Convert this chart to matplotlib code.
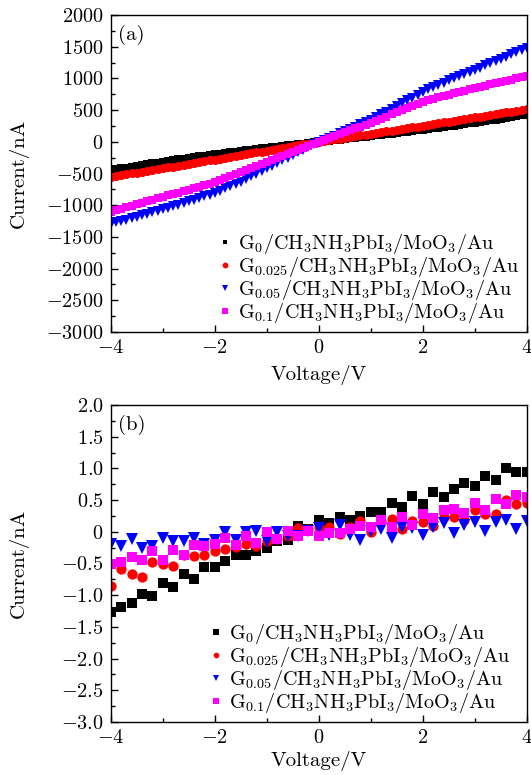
import numpy as np
import matplotlib
matplotlib.use("Agg")
import matplotlib.pyplot as plt
from matplotlib.ticker import MultipleLocator, FuncFormatter

plt.rcParams['font.family'] = 'cmr10'
plt.rcParams['mathtext.fontset'] = 'cm'
plt.rcParams['axes.formatter.use_mathtext'] = True
plt.rcParams['axes.unicode_minus'] = True

# ---------------- data: panel (a), sweep -4..4 V, step 0.1 V ----------------
volt_a = [round(-4 + 0.1 * i, 1) for i in range(81)]

cur_a_g0 = [-445, -432, -419, -406, -393, -380, -367, -354, -341, -328, -315,
            -303, -291, -279, -267, -255, -243, -231, -219, -207, -195,
            -185, -175, -165, -155, -145, -135, -125, -115, -105, -95,
            -85, -76, -66, -57, -47, -38, -28, -19, -9, 0,
            9, 18, 27, 36, 45, 54, 63, 72, 81, 90,
            100, 109, 119, 128, 138, 148, 159, 169, 180, 190,
            201, 211, 222, 232, 243, 254, 266, 277, 289, 300,
            312, 325, 337, 350, 362, 375, 388, 402, 415, 428]

cur_a_g0025 = [-552, -539, -525, -512, -498, -485, -472, -458, -445, -431, -418,
               -404, -390, -377, -363, -349, -335, -321, -308, -294, -280,
               -266, -252, -238, -224, -210, -196, -182, -168, -154, -140,
               -126, -112, -98, -84, -70, -56, -42, -28, -14, 0,
               13, 25, 38, 50, 63, 76, 89, 101, 114, 127,
               140, 152, 165, 177, 190, 203, 216, 228, 241, 254,
               267, 280, 292, 305, 318, 331, 344, 358, 371, 384,
               397, 410, 424, 437, 450, 464, 477, 491, 504, 518]

cur_a_g005 = [-1295, -1272, -1249, -1226, -1203, -1180, -1156, -1133, -1109, -1086, -1062,
              -1038, -1013, -989, -964, -940, -913, -886, -859, -832, -805,
              -770, -735, -700, -665, -630, -588, -546, -504, -462, -420,
              -378, -336, -294, -252, -210, -168, -126, -84, -42, 0,
              33, 66, 99, 132, 165, 201, 237, 273, 309, 345,
              388, 431, 474, 517, 560, 606, 652, 698, 744, 790,
              826, 862, 898, 934, 970, 1003, 1036, 1069, 1102, 1135,
              1170, 1205, 1240, 1275, 1310, 1345, 1380, 1415, 1450, 1485]

cur_a_g01 = [-1100, -1077, -1054, -1031, -1008, -985, -962, -939, -916, -893, -870,
             -847, -824, -801, -778, -755, -731, -707, -683, -659, -635,
             -604, -573, -542, -511, -480, -448, -416, -384, -352, -320,
             -288, -256, -224, -192, -160, -128, -96, -64, -32, 0,
             30, 60, 90, 120, 150, 180, 210, 240, 270, 300,
             333, 366, 399, 432, 465, 498, 531, 564, 597, 630,
             653, 676, 699, 722, 745, 766, 787, 808, 829, 850,
             869, 888, 907, 926, 945, 963, 981, 999, 1017, 1035]

# ---------------- data: panel (b), sweep -4..4 V, step 0.2 V ----------------
volt_b = [round(-4 + 0.2 * i, 1) for i in range(41)]

cur_b_g0 = [-1.27, -1.19, -1.12, -0.98, -1.02, -0.81, -0.87, -0.66, -0.75, -0.56,
            -0.56, -0.46, -0.37, -0.36, -0.30, -0.26, -0.15, -0.13, 0.09, 0.05,
            0.19, 0.14, 0.23, 0.18, 0.25, 0.31, 0.32, 0.46, 0.39, 0.56,
            0.44, 0.63, 0.55, 0.68, 0.77, 0.73, 0.88, 0.81, 1.00, 0.94, 0.95]

cur_b_g0025 = [-0.85, -0.59, -0.67, -0.72, -0.47, -0.51, -0.54, -0.36, -0.38, -0.36,
               -0.31, -0.27, -0.24, -0.19, -0.23, -0.15, -0.12, -0.07, 0.06, 0.04,
               0.07, 0.07, -0.03, 0.07, 0.17, 0.00, 0.17, 0.20, 0.04, 0.17,
               0.15, 0.09, 0.23, 0.23, 0.18, 0.35, 0.28, 0.28, 0.50, 0.44, 0.45]

cur_b_g005 = [-0.19, -0.23, -0.12, -0.26, -0.23, -0.09, -0.14, -0.14, -0.10, -0.19,
              -0.13, -0.01, -0.13, -0.01, 0.02, -0.14, 0.00, -0.07, -0.07, 0.02,
              0.06, -0.05, 0.11, -0.05, -0.13, 0.02, 0.04, -0.10, 0.08, 0.06,
              -0.05, 0.07, 0.14, -0.02, 0.11, 0.16, 0.02, 0.16, 0.19, 0.04, 0.17]

cur_b_g01 = [-0.50, -0.47, -0.39, -0.45, -0.31, -0.44, -0.28, -0.36, -0.21, -0.23,
             -0.19, -0.10, -0.21, -0.06, -0.18, -0.01, -0.12, 0.02, -0.07, 0.02,
             -0.06, -0.02, -0.02, 0.04, 0.09, 0.07, 0.18, 0.07, 0.24, 0.11,
             0.28, 0.22, 0.34, 0.36, 0.30, 0.45, 0.35, 0.52, 0.44, 0.58, 0.55]

labels = [r'G$_{0}$/CH$_{3}$NH$_{3}$PbI$_{3}$/MoO$_{3}$/Au',
          r'G$_{0.025}$/CH$_{3}$NH$_{3}$PbI$_{3}$/MoO$_{3}$/Au',
          r'G$_{0.05}$/CH$_{3}$NH$_{3}$PbI$_{3}$/MoO$_{3}$/Au',
          r'G$_{0.1}$/CH$_{3}$NH$_{3}$PbI$_{3}$/MoO$_{3}$/Au']
colors = ['#000000', '#ff0000', '#0000ff', '#ff00ff']
markers = ['s', 'o', 'v', 's']

yticks_a = [-3000, -2500, -2000, -1500, -1000, -500, 0, 500, 1000, 1500, 2000]
yticks_b = [-3.0, -2.5, -2.0, -1.5, -1.0, -0.5, 0.0, 0.5, 1.0, 1.5, 2.0]
xticks = [-4, -2, 0, 2, 4]

W, H = 531, 775
fig = plt.figure(figsize=(W / 100, H / 100), dpi=100)

def px_axes(left, top, right, bottom):
    return fig.add_axes([left / W, 1 - bottom / H, (right - left) / W, (bottom - top) / H])

ax_a = px_axes(110.7, 15, 526.7, 332)
ax_b = px_axes(110.7, 405, 526.7, 722)

FS = 15
TFS = 14.6
LFS = 14.5

def fmt_a(v, pos):
    return '$%d$' % round(v)

def fmt_b(v, pos):
    if abs(v) < 1e-9:
        return '$0$'
    return '$%.1f$' % v

def fmt_x(v, pos):
    return '$%d$' % round(v)

series_a = [cur_a_g0, cur_a_g0025, cur_a_g005, cur_a_g01]
series_b = [cur_b_g0, cur_b_g0025, cur_b_g005, cur_b_g01]
ms_a = [5.5, 6.5, 7.0, 6.3]
ms_b = [6.7, 7.4, 8.6, 6.7]

for i in range(4):
    ax_a.plot(volt_a, series_a[i], linestyle='none', marker=markers[i], color=colors[i],
              markersize=ms_a[i], markeredgewidth=0, label=labels[i])
    ax_b.plot(volt_b, series_b[i], linestyle='none', marker=markers[i], color=colors[i],
              markersize=ms_b[i], markeredgewidth=0, label=labels[i])

for ax, yt, fmt, panel, leg_xy, msc, lpad in [(ax_a, yticks_a, fmt_a, '(a)', (0.264, 0.169), 0.65, 6),
                                              (ax_b, yticks_b, fmt_b, '(b)', (0.243, 0.169), 0.55, 3)]:
    ax.set_xlim(-4, 4)
    ax.set_ylim(yt[0], yt[-1])
    ax.set_xticks(xticks)
    ax.set_yticks(yt)
    ax.xaxis.set_minor_locator(MultipleLocator(1))
    ax.yaxis.set_minor_locator(MultipleLocator((yt[1] - yt[0]) / 2))
    ax.xaxis.set_major_formatter(FuncFormatter(fmt_x))
    ax.yaxis.set_major_formatter(FuncFormatter(fmt))
    ax.tick_params(which='both', direction='in', top=False, right=False, labelsize=TFS)
    ax.tick_params(which='major', length=5, width=1, pad=5)
    ax.tick_params(which='minor', length=3, width=1)
    for sp in ax.spines.values():
        sp.set_linewidth(1.0)
    ax.set_xlabel('Voltage/V', fontsize=FS, labelpad=lpad)
    ax.set_ylabel('Current/nA', fontsize=FS)
    ax.yaxis.set_label_coords(-0.197, 0.5)
    ax.text(0.017, 0.968, panel, transform=ax.transAxes, fontsize=FS, va='top', ha='left')
    leg = ax.legend(loc='center left', bbox_to_anchor=leg_xy, frameon=False,
                    fontsize=LFS, handlelength=0.45, handletextpad=0.4,
                    labelspacing=-0.05, borderpad=0, borderaxespad=0,
                    markerscale=msc)

fig.savefig('out.png', dpi=100)
